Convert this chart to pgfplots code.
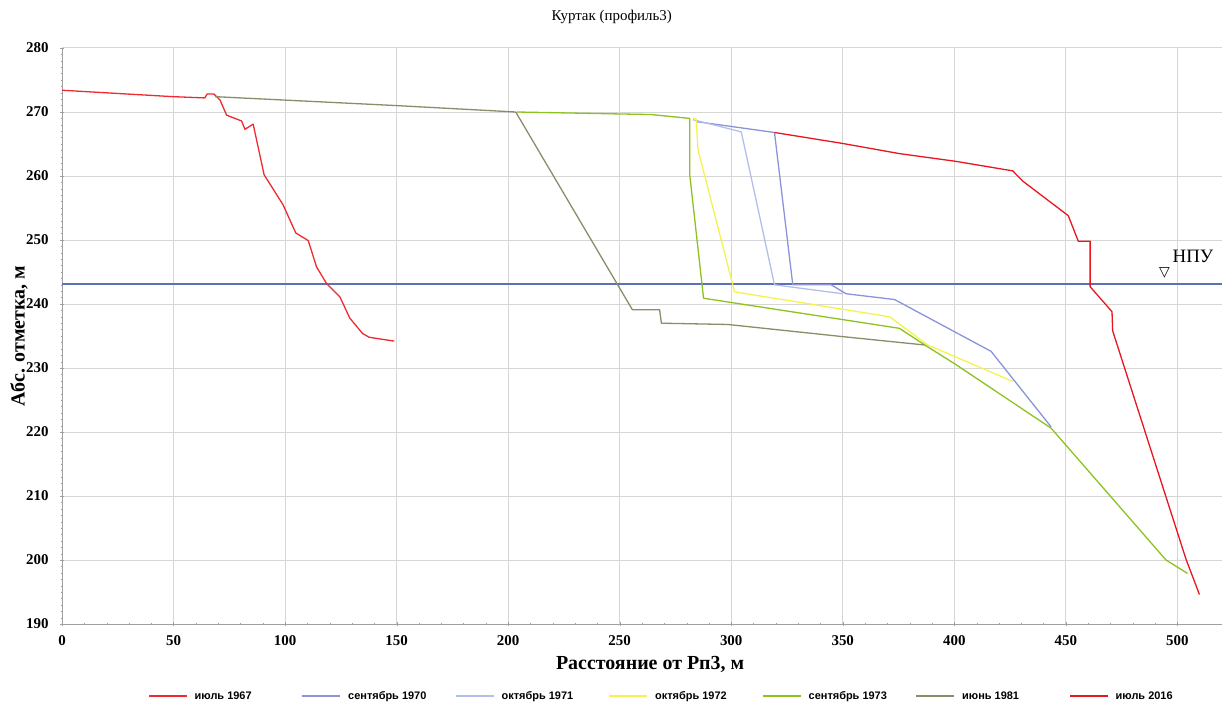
\documentclass[border=0pt]{standalone}
\usepackage{pgfplots}
\pgfplotsset{compat=1.18}
\usepackage{fontspec}
\setmainfont{Liberation Serif}
\newfontfamily\legfont{Liberation Sans}
\newfontfamily\symfont{DejaVu Sans}
\definecolor{cRedA}{HTML}{EE2A30}
\definecolor{cRedB}{HTML}{E8161E}
\definecolor{cBlue}{HTML}{8A94DA}
\definecolor{cLight}{HTML}{B4BEEA}
\definecolor{cYellow}{HTML}{F5F250}
\definecolor{cGreen}{HTML}{8DC220}
\definecolor{cOlive}{HTML}{8C8C68}
\definecolor{cNpu}{HTML}{5A72B4}
\definecolor{cGrid}{HTML}{D6D6D6}
\definecolor{cAxis}{HTML}{A0A0A0}
\begin{document}
\begin{tikzpicture}
\useasboundingbox (-62bp,-85bp) rectangle (1165bp,624bp);
\begin{axis}[
  scale only axis,
  width=1160bp, height=576bp,
  xmin=0, xmax=520, ymin=190, ymax=280,
  xtick={0,50,...,500}, ytick={190,200,...,280},
  minor x tick num=4, minor y tick num=9,
  axis x line=bottom, axis y line=left,
  axis line style={cAxis, -},
  tick style={cAxis},
  major tick length=4bp, minor tick length=2.5bp,
  grid=major, major grid style={cGrid, line width=1pt},
  /pgf/number format/assume math mode=true,
  ticklabel style={font=\fontsize{15}{17}\selectfont\bfseries},
  xticklabel style={yshift=-6bp},
  yticklabel style={xshift=-8bp},
  title={Куртак (профиль3)},
  title style={at={(axis description cs:0.474,1.044)}, anchor=center, font=\fontsize{15}{18}\selectfont},
  xlabel={Расстояние от Рп3, м},
  ylabel={Абс. отметка, м},
  xlabel style={at={(axis description cs:0.507,-0.07)}, anchor=center, font=\fontsize{20}{24}\selectfont\bfseries},
  ylabel style={at={(axis description cs:-0.037,0.5)}, anchor=center, font=\fontsize{20}{24}\selectfont\bfseries},
  legend columns=7,
  legend style={at={(axis description cs:0,0)}, anchor=west, xshift=86bp, yshift=-72bp,
     draw=none, fill=none, inner sep=0pt,
     font=\legfont\fontsize{11}{13}\selectfont\bfseries,
     nodes={inner sep=1bp}},
  legend image code/.code={\draw[#1, line width=1.5bp] (0bp,0bp) -- (38bp,0bp);},
  every axis plot/.append style={line width=1.3bp, line join=round},
]
% NPU level line
\addplot[cNpu, line width=1.6bp, forget plot] coordinates {(0,243.1) (520,243.1)};

\addplot[cRedA] coordinates {
(0,273.4) (49.6,272.4) (64,272.2) (65.1,272.8) (68.1,272.8) (70.8,271.9)
(73.8,269.5) (80.5,268.6) (82,267.3) (85.7,268.1) (90.6,260.2) (99.1,255.5)
(104.8,251.1) (110.4,249.9) (114.1,245.8) (118.6,243.2) (124.6,241.1)
(129,237.8) (134.7,235.4) (137.7,234.8) (148.9,234.2)};
\addlegendentry{\hspace{6bp}\makebox[106bp][l]{июль 1967}}

\addplot[cBlue] coordinates {
(284.3,268.5) (319.4,266.8) (327.6,243.0) (344.8,243.0) (351.5,241.6)
(373.2,240.7) (416.5,232.6) (443.4,220.8)};
\addlegendentry{\hspace{6bp}\makebox[106bp][l]{сентябрь 1970}}

\addplot[cLight] coordinates {
(282.8,268.8) (304.5,266.9) (319.4,243.0) (350,241.6)};
\addlegendentry{\hspace{6bp}\makebox[106bp][l]{октябрь 1971}}

\addplot[cYellow] coordinates {
(282.8,269.0) (284.3,268.9) (285.1,264.1) (301.5,241.9) (371,238.0)
(388.1,233.6) (426.2,227.9)};
\addlegendentry{\hspace{6bp}\makebox[106bp][l]{октябрь 1972}}

\addplot[cGreen] coordinates {
(204,270.0) (264.2,269.6) (281.4,269.0) (281.4,260.2) (287.6,240.9)
(349.3,237.6) (375.4,236.2) (388.1,233.3) (400,230.7) (443.4,220.6)
(494.9,200.0) (504.6,197.9)};
\addlegendentry{\hspace{6bp}\makebox[106bp][l]{сентябрь 1973}}

\addplot[cOlive] coordinates {
(68.5,272.4) (150,271.0) (203.4,270.0) (255.7,239.1) (267.9,239.1)
(268.7,237.0) (298.5,236.8) (350,234.9) (386.6,233.6)};
\addlegendentry{\hspace{6bp}\makebox[106bp][l]{июнь 1981}}

\addplot[cRedB] coordinates {
(319.4,266.8) (349.7,265.1) (375.4,263.5) (400.5,262.3) (426.2,260.8)
(430.7,259.2) (451.1,253.8) (455.6,249.8) (460.9,249.8) (460.9,242.7)
(470.7,238.8) (471,235.8) (503.9,200.1) (509.9,194.6)};
\addlegendentry{\hspace{6bp}\makebox[60bp][l]{июль 2016}}

\node[font=\symfont\fontsize{14}{15}\selectfont] at (axis cs:494.2,244.9) {▽};
\node[font=\fontsize{19}{21}\selectfont] at (axis cs:507,247.5) {НПУ};
\end{axis}
\end{tikzpicture}
\end{document}
